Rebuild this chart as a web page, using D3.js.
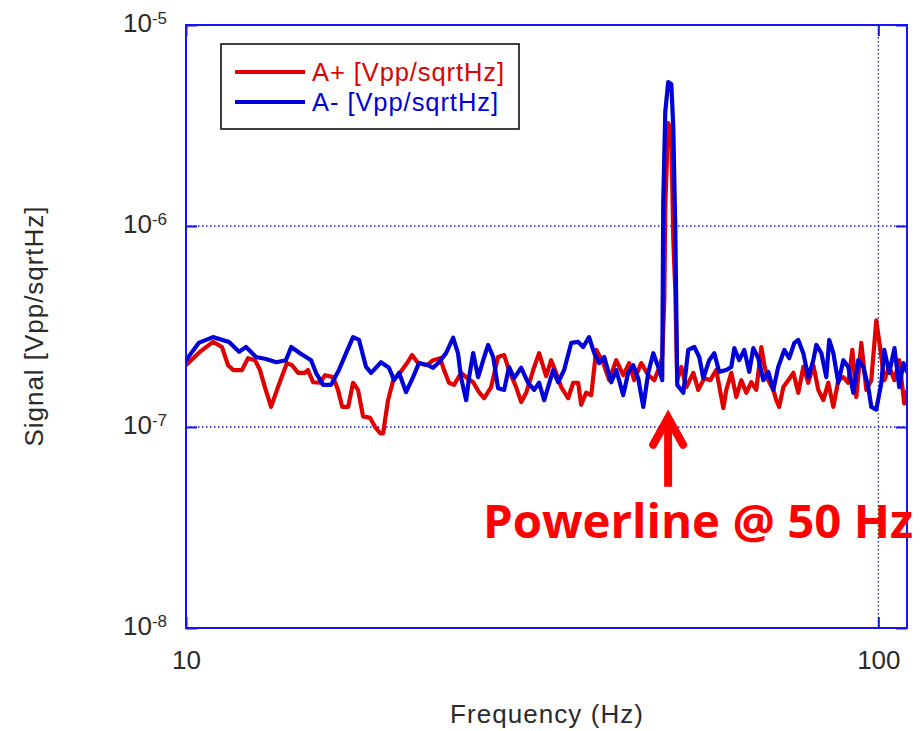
<!DOCTYPE html>
<html>
<head>
<meta charset="utf-8">
<script src="https://cdn.jsdelivr.net/npm/d3@7"></script>
<style>
  body { margin: 0; background: #fff; }
  svg { display: block; }
</style>
</head>
<body>
<div id="vis"></div>
<script>
// frequencies in Hz, values in units of 1e-7 Vpp/sqrtHz
const freqPlus = [10.00, 10.48, 10.94, 11.27, 11.50, 11.70, 12.05, 12.29, 12.58, 12.79,
  13.00, 13.27, 13.58, 13.99, 14.23, 14.52, 14.85, 15.00, 15.26, 15.62,
  15.88, 16.31, 16.58, 16.81, 17.15, 17.43, 17.72, 18.02, 18.45, 18.76,
  19.07, 19.26, 19.58, 19.92, 20.38, 20.86, 21.21, 21.63, 22.29, 22.75,
  23.28, 23.59, 23.98, 24.39, 24.97, 25.47, 25.99, 26.50, 26.95, 27.59,
  28.23, 28.81, 29.28, 29.98, 30.49, 31.00, 31.73, 32.36, 33.13, 33.68,
  34.24, 34.83, 35.64, 36.25, 36.85, 37.22, 37.84, 38.49, 39.13, 40.06,
  40.85, 41.82, 42.81, 43.66, 44.40, 45.46, 46.52, 47.46, 48.25, 48.74,
  49.07, 49.23, 49.71, 50.23, 50.56, 50.90, 51.23, 51.93, 52.80, 54.05,
  54.94, 56.06, 57.19, 58.33, 59.72, 60.31, 61.33, 62.35, 63.40, 64.45,
  65.55, 66.64, 67.77, 68.44, 69.34, 70.52, 71.22, 71.91, 72.91, 74.12,
  75.38, 76.62, 77.92, 79.21, 80.56, 81.89, 83.28, 84.66, 86.10, 87.53,
  89.01, 90.48, 91.72, 92.93, 94.50, 96.07, 97.69, 99.32, 100.7, 102.0,
  103.7, 105.5, 107.2, 109.0, 110.1];
const aPlus = [2.03, 2.37, 2.65, 2.50, 2.03, 1.92, 1.92, 2.20, 2.15, 1.92,
  1.58, 1.26, 1.58, 2.08, 2.03, 1.86, 1.86, 1.92, 1.67, 1.66,
  1.81, 1.77, 1.53, 1.26, 1.26, 1.66, 1.53, 1.13, 1.11, 1.00,
  0.93, 0.93, 1.36, 1.71, 1.86, 2.08, 2.28, 2.08, 2.03, 2.15,
  2.20, 1.92, 1.66, 1.62, 1.86, 1.75, 1.67, 1.49, 1.39, 1.58,
  2.23, 2.28, 1.92, 1.58, 1.33, 1.48, 1.92, 2.33, 1.79, 2.15,
  1.86, 1.58, 1.39, 1.66, 1.66, 1.29, 1.48, 1.44, 2.42, 2.08,
  1.71, 2.15, 1.81, 2.08, 1.71, 2.08, 1.81, 1.71, 1.97, 2.23,
  4.28, 12.4, 32.5, 30.0, 8.52, 4.80, 1.71, 1.99, 1.58, 1.86,
  1.53, 1.75, 1.71, 1.92, 1.24, 1.53, 1.86, 1.41, 1.71, 1.48,
  1.67, 1.53, 2.50, 2.03, 1.71, 1.53, 1.36, 1.26, 1.58, 1.71,
  1.86, 1.48, 1.99, 1.66, 2.03, 1.53, 1.36, 1.66, 1.26, 1.71,
  1.77, 1.66, 2.42, 1.41, 2.62, 1.53, 1.71, 3.39, 2.42, 1.71,
  1.99, 1.71, 2.15, 1.31, 1.53];

const freqMinus = [10.00, 10.43, 10.94, 11.54, 11.93, 12.21, 12.62, 13.05, 13.50, 13.94,
  14.19, 14.61, 15.16, 15.41, 15.78, 16.20, 16.63, 17.03, 17.43, 17.78,
  18.20, 18.51, 19.13, 19.64, 19.98, 20.31, 20.79, 21.28, 21.70, 22.36,
  22.75, 23.20, 23.75, 24.31, 24.71, 24.97, 25.39, 25.64, 25.99, 26.42,
  26.87, 27.31, 27.78, 28.23, 28.81, 29.28, 29.78, 30.49, 31.20, 31.84,
  32.36, 32.91, 33.91, 34.47, 35.17, 36.01, 36.85, 37.47, 38.21, 38.87,
  39.51, 40.19, 41.14, 41.82, 42.81, 43.52, 44.26, 44.99, 45.76, 46.52,
  47.31, 48.09, 48.74, 48.90, 49.23, 49.71, 50.23, 50.56, 50.90, 51.23,
  52.28, 53.14, 54.22, 55.12, 55.87, 56.98, 57.95, 58.91, 60.31, 61.33,
  61.94, 62.96, 64.03, 65.09, 65.98, 67.07, 68.22, 69.34, 70.52, 71.68,
  73.15, 74.36, 75.62, 76.62, 77.92, 79.21, 80.56, 81.36, 82.73, 84.11,
  84.93, 86.10, 87.53, 89.01, 90.48, 92.02, 93.54, 95.13, 96.70, 97.69,
  99.32, 101.0, 102.0, 103.7, 105.5, 107.2, 108.7, 110.1];
const aMinus = [2.15, 2.62, 2.80, 2.65, 2.37, 2.50, 2.23, 2.18, 2.10, 2.15,
  2.50, 2.33, 2.15, 1.86, 1.62, 1.62, 1.92, 2.33, 2.80, 2.71,
  1.99, 1.86, 2.10, 1.97, 1.71, 1.86, 1.49, 1.77, 2.08, 2.03,
  1.97, 2.10, 2.33, 2.78, 2.33, 1.75, 1.36, 1.77, 2.33, 1.77,
  2.15, 2.56, 2.23, 1.56, 1.53, 1.99, 1.75, 1.97, 1.66, 1.53,
  1.66, 1.36, 1.92, 1.67, 1.92, 2.62, 2.65, 2.50, 2.80, 2.33,
  2.08, 2.23, 1.67, 1.92, 1.44, 1.86, 2.03, 1.75, 1.26, 1.86,
  2.33, 1.99, 1.71, 13.0, 36.9, 52.0, 50.9, 31.1, 9.55, 1.62,
  1.48, 2.42, 2.50, 2.23, 1.75, 2.15, 2.33, 1.88, 1.92, 1.99,
  2.47, 2.15, 2.42, 1.88, 2.47, 2.20, 1.71, 1.88, 1.53, 1.99,
  2.42, 2.20, 2.62, 2.71, 2.33, 1.77, 2.15, 2.56, 2.33, 1.77,
  2.71, 2.33, 1.66, 2.15, 1.99, 1.48, 2.15, 1.99, 1.58, 1.26,
  1.22, 1.66, 2.42, 1.86, 2.47, 1.58, 2.08, 1.86];

const xTicks = [10, 100];
const yTicks = [1e-8, 1e-7, 1e-6, 1e-5];
const seriesNames = ["A+ [Vpp/sqrtHz]", "A- [Vpp/sqrtHz]"];
const UNIT = 1e-7;

const FRAME_WIDTH = 920;
const FRAME_HEIGHT = 731;
const MARGINS = {left: 186, right: 13, top: 25, bottom: 103};
const VIS_WIDTH = FRAME_WIDTH - MARGINS.left - MARGINS.right;
const VIS_HEIGHT = FRAME_HEIGHT - MARGINS.top - MARGINS.bottom;

const RED = "#e00000";
const BLUE = "#0000d8";
const AXIS_BLUE = "#1414f5";
const TEXT = "#2a2a2a";
const FONT = "'Liberation Sans', Arial, sans-serif";

const svg = d3.select("#vis")
  .append("svg")
  .attr("width", FRAME_WIDTH)
  .attr("height", FRAME_HEIGHT);

const X_SCALE = d3.scaleLog().domain([10, 110]).range([0, VIS_WIDTH]);
const Y_SCALE = d3.scaleLog().domain([1e-8, 1e-5]).range([VIS_HEIGHT, 0]);

const plot = svg.append("g")
  .attr("transform", "translate(" + MARGINS.left + "," + MARGINS.top + ")");

plot.append("clipPath").attr("id", "clip")
  .append("rect").attr("width", VIS_WIDTH).attr("height", VIS_HEIGHT);

// dotted grid
plot.selectAll(".hgrid")
  .data(yTicks.filter(d => d > 1e-8 && d < 1e-5))
  .enter().append("line")
    .attr("x1", 0).attr("x2", VIS_WIDTH)
    .attr("y1", d => Y_SCALE(d)).attr("y2", d => Y_SCALE(d))
    .attr("stroke", AXIS_BLUE).attr("stroke-width", 1.3)
    .attr("stroke-dasharray", "1.5,2.5");
plot.selectAll(".vgrid")
  .data(xTicks.filter(d => d > 10))
  .enter().append("line")
    .attr("y1", 0).attr("y2", VIS_HEIGHT)
    .attr("x1", d => X_SCALE(d)).attr("x2", d => X_SCALE(d))
    .attr("stroke", AXIS_BLUE).attr("stroke-width", 1.3)
    .attr("stroke-dasharray", "1.5,2.5");

// series
const seriesData = [
  {name: seriesNames[0], color: RED, pts: freqPlus.map((f, i) => [f, aPlus[i] * UNIT])},
  {name: seriesNames[1], color: BLUE, pts: freqMinus.map((f, i) => [f, aMinus[i] * UNIT])}
];

const line = d3.line()
  .x(d => X_SCALE(d[0]))
  .y(d => Y_SCALE(d[1]));

plot.append("g").attr("clip-path", "url(#clip)")
  .selectAll("path")
  .data(seriesData)
  .enter().append("path")
    .attr("d", d => line(d.pts))
    .attr("fill", "none")
    .attr("stroke", d => d.color)
    .attr("stroke-width", 4.2)
    .attr("stroke-linejoin", "round");

// axes with inner ticks
function styleAxis(g) {
  g.select(".domain").remove();
  g.selectAll(".tick line").attr("stroke", AXIS_BLUE).attr("stroke-width", 2);
  g.selectAll(".tick text").attr("fill", TEXT).attr("font-family", FONT).attr("font-size", 26);
}

plot.append("g")
  .attr("transform", "translate(0," + VIS_HEIGHT + ")")
  .call(d3.axisBottom(X_SCALE).tickValues(xTicks).tickFormat(d3.format("d"))
    .tickSizeInner(-11).tickSizeOuter(0).tickPadding(23))
  .call(styleAxis);

plot.append("g")
  .call(d3.axisTop(X_SCALE).tickValues(xTicks).tickFormat("")
    .tickSizeInner(-11).tickSizeOuter(0))
  .call(styleAxis);

const yAxis = plot.append("g")
  .call(d3.axisLeft(Y_SCALE).tickValues(yTicks).tickFormat("")
    .tickSizeInner(-11).tickSizeOuter(0).tickPadding(19))
  .call(styleAxis);

yAxis.selectAll(".tick text").each(function(d) {
  const t = d3.select(this).text("").attr("dy", "0.25em");
  t.append("tspan").text("10");
  t.append("tspan").attr("dy", "-0.5em").attr("font-size", 17).text(Math.round(Math.log10(d)));
});

plot.append("g")
  .attr("transform", "translate(" + VIS_WIDTH + ",0)")
  .call(d3.axisRight(Y_SCALE).tickValues(yTicks).tickFormat("")
    .tickSizeInner(-11).tickSizeOuter(0))
  .call(styleAxis);

// frame
plot.append("rect")
  .attr("width", VIS_WIDTH).attr("height", VIS_HEIGHT)
  .attr("fill", "none").attr("stroke", AXIS_BLUE).attr("stroke-width", 2);

// axis titles
svg.append("text")
  .attr("x", MARGINS.left + VIS_WIDTH / 2)
  .attr("y", 723)
  .attr("text-anchor", "middle")
  .attr("font-family", FONT).attr("font-size", 26).attr("fill", TEXT)
  .attr("textLength", 193).attr("lengthAdjust", "spacing")
  .text("Frequency (Hz)");

svg.append("text")
  .attr("transform", "translate(43," + (MARGINS.top + VIS_HEIGHT / 2) + ") rotate(-90)")
  .attr("text-anchor", "middle")
  .attr("font-family", FONT).attr("font-size", 26).attr("fill", TEXT)
  .attr("textLength", 240).attr("lengthAdjust", "spacing")
  .text("Signal [Vpp/sqrtHz]");

// legend
const legend = plot.append("g").attr("transform", "translate(35,19)");
legend.append("rect")
  .attr("width", 298).attr("height", 85)
  .attr("fill", "#fff").attr("stroke", "#111").attr("stroke-width", 1.6);
const entry = legend.selectAll(".entry")
  .data(seriesData)
  .enter().append("g")
    .attr("transform", (d, i) => "translate(0," + (28 + i * 30) + ")");
entry.append("line")
  .attr("x1", 14).attr("x2", 84)
  .attr("stroke", d => d.color).attr("stroke-width", 4);
entry.append("text")
  .attr("x", 91).attr("dy", "0.36em")
  .attr("font-family", FONT).attr("font-size", 25.5)
  .attr("fill", d => d.color)
  .attr("textLength", (d, i) => i === 0 ? 192 : 186).attr("lengthAdjust", "spacing")
  .text(d => d.name);

// powerline annotation
const arrowX = X_SCALE(49.7);
const tipY = Y_SCALE(1.15e-7);
const arrow = plot.append("g").attr("stroke", "#ff0000").attr("fill", "none").attr("stroke-width", 8);
arrow.append("path")
  .attr("d", "M" + arrowX + "," + (tipY + 6) + " L" + arrowX + "," + (tipY + 72));
arrow.append("path")
  .attr("d", "M" + (arrowX - 15) + "," + (tipY + 30) + " L" + arrowX + "," + (tipY + 3) + " L" + (arrowX + 15) + "," + (tipY + 30))
  .attr("stroke-linecap", "round").attr("stroke-linejoin", "miter");

const note = svg.append("text")
  .attr("x", 483).attr("y", 538)
  .attr("font-family", "'Open Sans', 'Noto Sans', sans-serif")
  .attr("font-weight", "bold")
  .attr("font-size", 47)
  .attr("fill", "#ff0000")
  .text("Powerline @ 50 Hz");
const w = note.node().getComputedTextLength();
note.attr("font-size", 47 * 430 / w);
</script>
</body>
</html>
